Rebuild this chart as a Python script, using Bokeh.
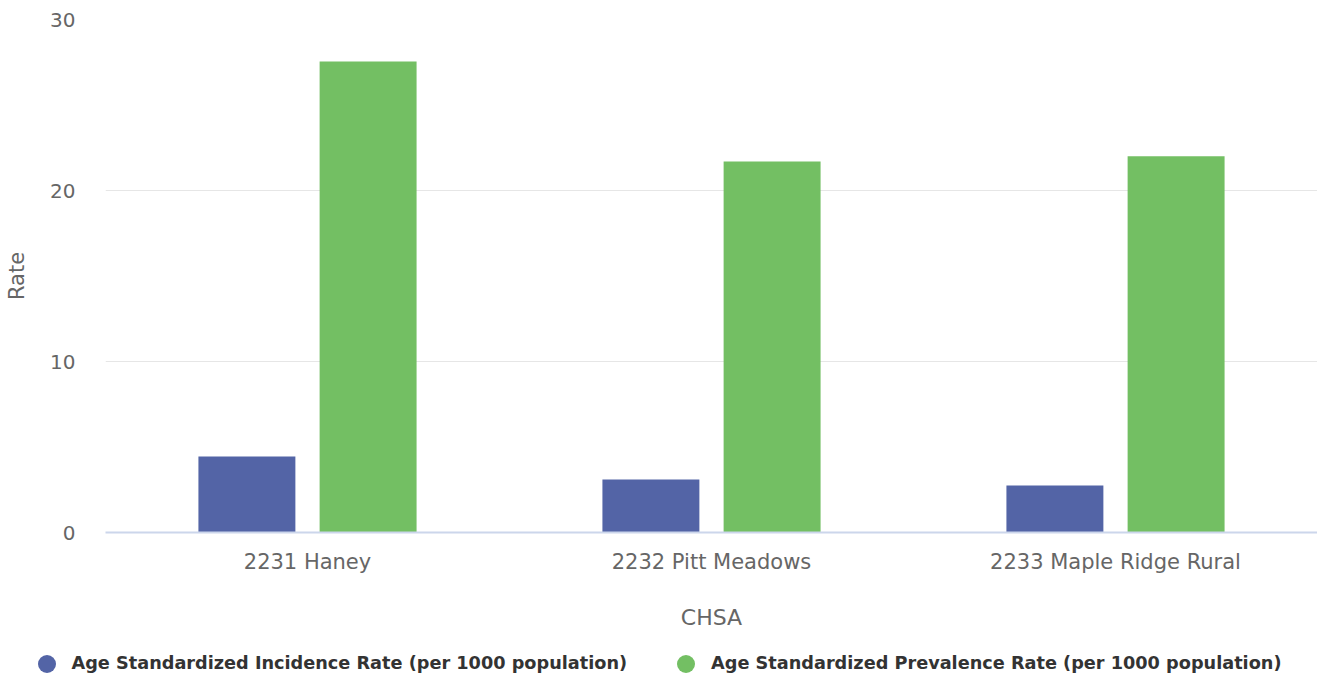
from bokeh.plotting import figure
from bokeh.layouts import column, row
from bokeh.models import FactorRange, Range1d, ColumnDataSource, Legend, LegendItem, FixedTicker
from bokeh.transform import dodge
from bokeh.embed import file_html
from bokeh.resources import INLINE

categories = ["2231 Haney", "2232 Pitt Meadows", "2233 Maple Ridge Rural"]
incidence = [4.45, 3.1, 2.75]
prevalence = [27.55, 21.7, 22.0]
series_names = ["Age Standardized Incidence Rate (per 1000 population)",
                "Age Standardized Prevalence Rate (per 1000 population)"]
y_ticks = [0, 10, 20, 30]

BLUE = "#5364a6"
GREEN = "#73bf63"
FONT = "DejaVu Sans"

src = ColumnDataSource(dict(cat=categories, inc=incidence, prev=prevalence))

MAIN_H = 632
p = figure(width=1317, height=MAIN_H, output_backend="svg", toolbar_location=None,
           x_range=FactorRange(*categories, range_padding=0), y_range=Range1d(0, 30),
           min_border_left=105, min_border_top=19, min_border_right=0,
           min_border_bottom=MAIN_H - 532)

p.vbar(x=dodge("cat", -0.15, range=p.x_range), top="inc", width=0.24, source=src,
       fill_color=BLUE, line_color=None)
p.vbar(x=dodge("cat", 0.15, range=p.x_range), top="prev", width=0.24, source=src,
       fill_color=GREEN, line_color=None)

p.outline_line_color = None
p.xgrid.grid_line_color = None
p.ygrid.grid_line_color = "#e6e6e6"
p.ygrid.grid_line_width = 1

p.yaxis.ticker = FixedTicker(ticks=y_ticks)
p.yaxis.axis_line_color = None
p.yaxis.major_tick_line_color = None
p.yaxis.minor_tick_line_color = None
p.yaxis.major_label_standoff = 24
p.yaxis.major_label_text_font = FONT
p.yaxis.major_label_text_font_size = "20px"
p.yaxis.major_label_text_color = "#666666"
p.yaxis.axis_label = "Rate"
p.yaxis.axis_label_standoff = 18
p.yaxis.axis_label_text_font = FONT
p.yaxis.axis_label_text_font_size = "21px"
p.yaxis.axis_label_text_font_style = "normal"
p.yaxis.axis_label_text_color = "#666666"

p.xaxis.axis_line_color = "#ccd6eb"
p.xaxis.axis_line_width = 2
p.xaxis.major_tick_line_color = None
p.xaxis.minor_tick_line_color = None
p.xaxis.major_tick_out = 0
p.xaxis.major_label_standoff = 17
p.xaxis.major_label_text_font = FONT
p.xaxis.major_label_text_font_size = "21px"
p.xaxis.major_label_text_color = "#666666"
p.xaxis.axis_label = "CHSA"
p.xaxis.axis_label_standoff = 28
p.xaxis.axis_label_text_font = FONT
p.xaxis.axis_label_text_font_size = "22px"
p.xaxis.axis_label_text_font_style = "normal"
p.xaxis.axis_label_text_color = "#666666"

# legend strip below the chart
LEG_H = 677 - MAIN_H
q = figure(width=1317, height=LEG_H, output_backend="svg", toolbar_location=None,
           x_range=Range1d(0, 1), y_range=Range1d(0, 1),
           x_axis_location=None, y_axis_location=None,
           min_border_left=0, min_border_right=0, min_border_top=0, min_border_bottom=0)
q.outline_line_color = None
q.grid.grid_line_color = None

nan = float("nan")
r1 = q.scatter(x=[nan], y=[nan], marker="circle", size=18, fill_color=BLUE, line_color=None)
r2 = q.scatter(x=[nan], y=[nan], marker="circle", size=18, fill_color=GREEN, line_color=None)

legend = Legend(items=[LegendItem(label=series_names[0], renderers=[r1]),
                       LegendItem(label=series_names[1], renderers=[r2])],
                orientation="horizontal", location=(23.5, -8.5),
                label_text_font=FONT, label_text_font_size="17.7px",
                label_text_font_style="bold", label_text_color="#333333",
                glyph_width=45, glyph_height=45, label_standoff=3, spacing=36,
                padding=0, margin=0, border_line_color=None, background_fill_alpha=0)
q.add_layout(legend, "center")

layout = column(p, row(q, spacing=0), spacing=0)
open("out.html", "w").write(file_html(layout, INLINE))
